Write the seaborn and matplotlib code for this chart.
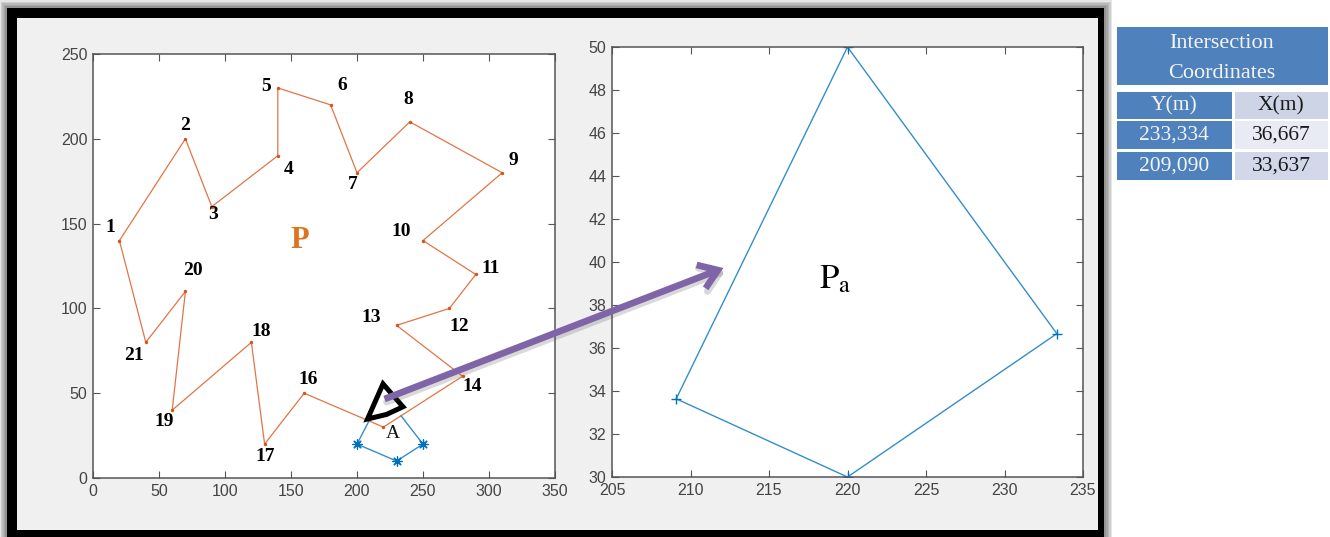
import matplotlib
matplotlib.use("Agg")
import matplotlib.pyplot as plt
import seaborn as sns
import numpy as np
import pandas as pd
from matplotlib.patches import Rectangle, FancyArrowPatch, Polygon

# ---------------- data ----------------
p_ids = list(range(1, 22))
p_x = [20, 70, 90, 140, 140, 180, 200, 240, 310, 250, 290, 270, 230, 280, 220, 160, 130, 120, 60, 70, 40]
p_y = [140, 200, 160, 190, 230, 220, 180, 210, 180, 140, 120, 100, 90, 60, 30, 50, 20, 80, 40, 110, 80]
# part of the blue area polygon lying outside P
a_x = [209.09, 200, 230, 250, 233.334]
a_y = [33.637, 20, 10, 20, 36.667]
# intersection polygon Pa
pa_x = [220, 233.334, 220, 209.09]
pa_y = [50, 36.667, 30, 33.637]
# hand-drawn highlight outline around Pa (left plot)
hl_x = [219.7, 234.8, 222.5, 208.0]
hl_y = [55.5, 42.0, 37.5, 34.8]

left_xticks = [0, 50, 100, 150, 200, 250, 300, 350]
left_yticks = [0, 50, 100, 150, 200, 250]
right_xticks = [205, 210, 215, 220, 225, 230, 235]
right_yticks = [30, 32, 34, 36, 38, 40, 42, 44, 46, 48, 50]

table_title = ["Intersection", "Coordinates"]
table_cols = ["Y(m)", "X(m)"]
table_y_vals = ["233,334", "209,090"]
table_x_vals = ["36,667", "33,637"]

# label offsets (pixels) for vertex numbers; vertex 15 is labelled "A"
label_off = [(-9, 13), (0, 13), (1, -8), (11, -14), (-12, 1), (12, 19), (-4, -12), (-2, 22),
             (11, 12), (-22, 9), (15, 6), (10, -18), (-25, 8), (10, -10), None, (4, 14),
             (1, -12), (10, 11), (-8, -11), (8, 21), (-12, -13)]

# ---------------- style ----------------
sns.set_theme(style="white")
plt.rcParams["font.family"] = ["Liberation Sans", "DejaVu Sans"]
plt.rcParams["mathtext.fontset"] = "stix"

ORANGE = "#D95319"
BLUE = "#0072BD"
SERIF = ["Liberation Serif", "DejaVu Serif"]

W, H = 1330, 537
fig = plt.figure(figsize=(W / 100, H / 100), dpi=100)
fig.patch.set_facecolor("white")


def fx(px):
    return px / W


def fy(py):
    return 1 - py / H


def frect(x0, y0, x1, y1, **kw):
    r = Rectangle((fx(x0), fy(y1)), (x1 - x0) / W, (y1 - y0) / H,
                  transform=fig.transFigure, **kw)
    fig.add_artist(r)
    return r


# frame with soft shadow
for d in [8, 6.5, 5, 3.5, 2]:
    frect(7 - d, 8 - d, 1104 + d, 545, fc="black", alpha=0.10, lw=0, zorder=-5)
frect(7, 8, 1104, 545, fc="black", lw=0, zorder=-4)
frect(17, 18, 1098, 530, fc="#f0f0f0", lw=0, zorder=-3)


def style_axes(ax, xt, yt):
    ax.set_facecolor("white")
    ax.set_xticks(xt)
    ax.set_yticks(yt)
    ax.tick_params(direction="in", top=True, right=True, length=5, width=0.8,
                   color="#555555", labelcolor="#444444", labelsize=11.5, pad=4,
                   bottom=True, left=True)
    for s in ax.spines.values():
        s.set_color("#555555")
        s.set_linewidth(1.1)
        s.set_visible(True)
    ax.set_xlabel("")
    ax.set_ylabel("")


# ---------------- left axes ----------------
ax1 = fig.add_axes([fx(93), fy(478), (555 - 93) / W, (478 - 54) / H])
px_closed = p_x + [p_x[0]]
py_closed = p_y + [p_y[0]]
sns.lineplot(x=px_closed, y=py_closed, sort=False, estimator=None, ax=ax1,
             color=ORANGE, lw=0.9, alpha=0.8)
sns.scatterplot(x=p_x, y=p_y, ax=ax1, color=ORANGE, s=6, linewidth=0)
sns.lineplot(x=a_x, y=a_y, sort=False, estimator=None, ax=ax1, color=BLUE, lw=1.0, alpha=0.8)
sns.scatterplot(x=a_x[1:4], y=a_y[1:4], ax=ax1, marker=(8, 2, 0), s=45,
                color=BLUE, linewidth=0.9)
ax1.add_patch(Polygon(np.column_stack([hl_x, hl_y]), closed=True, fill=False,
                      ec="black", lw=3.6, joinstyle="miter", zorder=6))
ax1.set_xlim(0, 350)
ax1.set_ylim(0, 250)
style_axes(ax1, left_xticks, left_yticks)

for i, (n, x, y) in enumerate(zip(p_ids, p_x, p_y)):
    off = label_off[i]
    if off is None:
        ax1.annotate("A", (x, y), xytext=(6.5, -4.5), textcoords="offset points",
                     ha="center", va="center", family=SERIF, fontsize=14, color="#111111")
        continue
    ax1.annotate(str(n), (x, y), xytext=(off[0] * 0.72, off[1] * 0.72),
                 textcoords="offset points", ha="center", va="center",
                 family=SERIF, fontweight="bold", fontsize=14, color="black")

ax1.text(156.8, 140.3, "P", ha="center", va="center", family=SERIF,
         fontweight="bold", fontsize=22, color="#dc7420")

# ---------------- right axes ----------------
ax2 = fig.add_axes([fx(612), fy(477), (1083 - 612) / W, (477 - 47) / H])
sns.lineplot(x=pa_x + [pa_x[0]], y=pa_y + [pa_y[0]], sort=False, estimator=None,
             ax=ax2, color=BLUE, lw=1.0, alpha=0.8)
sns.scatterplot(x=pa_x, y=pa_y, ax=ax2, marker="+", s=60, color=BLUE, linewidth=1.0)
ax2.set_xlim(205, 235)
ax2.set_ylim(30, 50)
style_axes(ax2, right_xticks, right_yticks)
ax2.text(219.2, 39.2, r"$\mathrm{P}_{\mathrm{a}}$", ha="center", va="center",
         fontsize=25, color="black")

# ---------------- arrow ----------------
start = (fx(382), fy(400))
end = (fx(726), fy(267))
shadow = FancyArrowPatch((start[0] + 2 / W, start[1] - 3 / H), (end[0] + 2 / W, end[1] - 3 / H),
                         transform=fig.transFigure, arrowstyle="->,head_length=0.65,head_width=0.45",
                         mutation_scale=20, lw=5, color="#555555", alpha=0.22, zorder=8)
fig.add_artist(shadow)
arrow = FancyArrowPatch(start, end, transform=fig.transFigure,
                        arrowstyle="->,head_length=0.65,head_width=0.45",
                        mutation_scale=20, lw=4.8, color="#8064a8", zorder=9,
                        capstyle="butt", joinstyle="miter")
fig.add_artist(arrow)

# ---------------- table ----------------
TBLUE = "#4f81bd"
frect(1117, 27, 1328, 85, fc=TBLUE, lw=0, zorder=2)
fig.text(fx(1222), fy(43), table_title[0], ha="center", va="center", family=SERIF,
         fontsize=16, color="#f4f4f4")
fig.text(fx(1222), fy(74), table_title[1], ha="center", va="center", family=SERIF,
         fontsize=16, color="#f4f4f4")
rows_y = [(92, 119), (121, 149), (152, 180)]
left_texts = [table_cols[0]] + table_y_vals
right_texts = [table_cols[1]] + table_x_vals
right_colors = ["#cdd4e6", "#e8ebf3", "#d2d8e9"]
for (y0, y1), lt, rt, rc in zip(rows_y, left_texts, right_texts, right_colors):
    frect(1117, y0, 1232, y1, fc=TBLUE, lw=0, zorder=2)
    frect(1235, y0, 1328, y1, fc=rc, lw=0, zorder=2)
    fig.text(fx(1174), fy((y0 + y1) / 2), lt, ha="center", va="center", family=SERIF,
             fontsize=15.5, color="#f4f4f4")
    fig.text(fx(1281), fy((y0 + y1) / 2), rt, ha="center", va="center", family=SERIF,
             fontsize=15.5, color="#1a1a1a")

fig.savefig("out.png", dpi=100)
